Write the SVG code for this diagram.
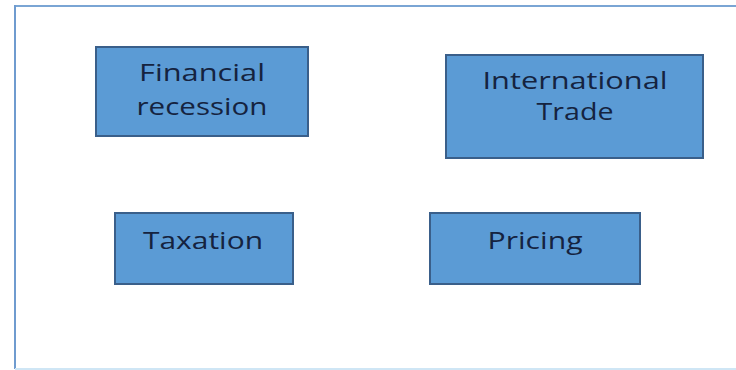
<svg xmlns="http://www.w3.org/2000/svg" width="736" height="370" viewBox="0 0 736 370">
<style>
.box{fill:#5b9bd5;stroke:#3a5f8a;stroke-width:2}
.lbl{font-family:"Open Sans","Liberation Sans",sans-serif;font-size:24px;fill:#15233f;text-anchor:middle}
</style>
<rect width="736" height="370" fill="#ffffff"/>
<g id="frame">
<line x1="15" y1="6" x2="736" y2="6" stroke="#7aa5d4" stroke-width="2"/>
<line x1="15" y1="5" x2="15" y2="369" stroke="#6f9bcf" stroke-width="2"/>
<line x1="15" y1="369" x2="736" y2="369" stroke="#cfe6f5" stroke-width="2"/>
</g>
<g id="financial">
<rect class="box" x="96" y="47" width="212" height="89"/>
<text class="lbl" x="202" y="81" textLength="126" lengthAdjust="spacingAndGlyphs">Financial</text>
<text class="lbl" x="202" y="115" textLength="131" lengthAdjust="spacingAndGlyphs">recession</text>
</g>
<g id="trade">
<rect class="box" x="446" y="55" width="257" height="103"/>
<text class="lbl" x="575" y="89" textLength="185" lengthAdjust="spacingAndGlyphs">International</text>
<text class="lbl" x="575" y="120" textLength="77" lengthAdjust="spacingAndGlyphs">Trade</text>
</g>
<g id="taxation">
<rect class="box" x="115" y="213" width="178" height="71"/>
<text class="lbl" x="203" y="249" textLength="120" lengthAdjust="spacingAndGlyphs">Taxation</text>
</g>
<g id="pricing">
<rect class="box" x="430" y="213" width="210" height="71"/>
<text class="lbl" x="535" y="249" textLength="95" lengthAdjust="spacingAndGlyphs">Pricing</text>
</g>
<g id="connectors"></g>
</svg>
